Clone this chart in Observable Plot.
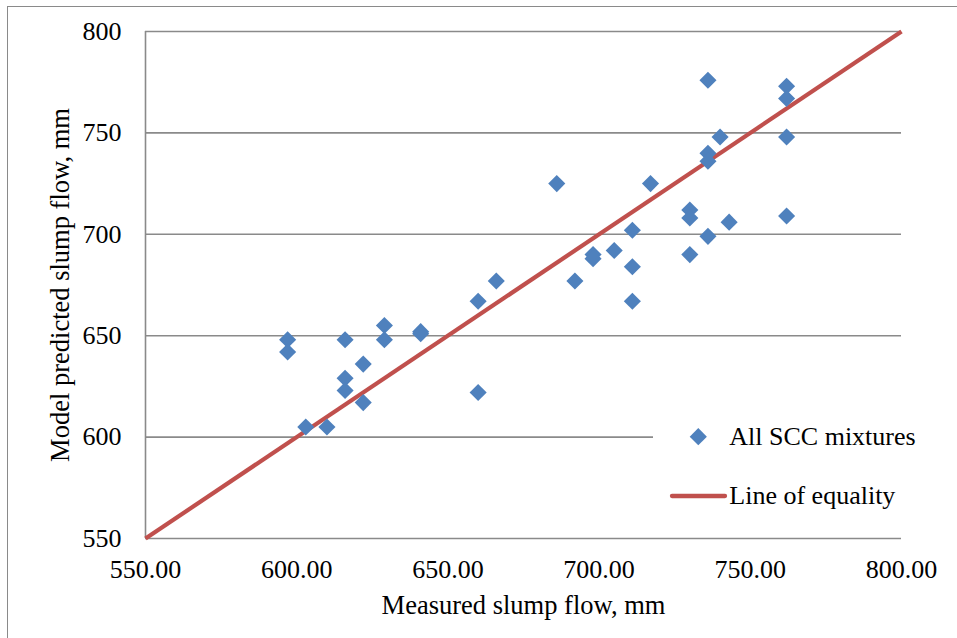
<!DOCTYPE html>
<html>
<head>
<meta charset="utf-8">
<script src="https://cdn.jsdelivr.net/npm/d3@7"></script>
<script src="https://cdn.jsdelivr.net/npm/@observablehq/plot@0.6"></script>
<style>
html, body { margin: 0; padding: 0; background: #fff; overflow: hidden; }
#wrap { position: relative; width: 957px; height: 638px; font-family: "Liberation Serif", "Times New Roman", serif; }
#frame { position: absolute; left: 7px; top: 6px; width: 1000px; height: 1000px; border: 1px solid #8a8a8a; }
#chart { position: absolute; left: 0; top: 0; }
#legend { position: absolute; left: 653px; top: 405px; }
</style>
</head>
<body>
<div id="wrap">
  <div id="frame"></div>
  <div id="chart"></div>
  <div id="legend"></div>
</div>
<script>
// Measured vs. model predicted slump flow (mm)
const measured = [736, 762, 762, 740, 762, 736, 736, 686, 717, 730,
                  730, 743, 762, 711, 736, 698, 698, 705, 711, 730,
                  692, 711, 666, 660, 597, 597, 616, 629, 629, 641,
                  641, 622, 616, 616, 622, 603, 610, 660];
const predicted = [776, 773, 767, 748, 748, 740, 736, 725, 725, 712,
                   708, 706, 709, 702, 699, 690, 688, 692, 684, 690,
                   677, 667, 677, 667, 648, 642, 648, 655, 648, 652,
                   651, 636, 629, 623, 617, 605, 605, 622];
const equalityX = [550, 800];
const equalityY = [550, 800];
const xTicks = [550, 600, 650, 700, 750, 800];
const yTicks = [550, 600, 650, 700, 750, 800];
const seriesNames = ["All SCC mixtures", "Line of equality"];
const xTitle = "Measured slump flow, mm";
const yTitle = "Model predicted slump flow, mm";

const points = measured.map((m, i) => ({x: m, y: predicted[i]}));
const eqLine = equalityX.map((v, i) => ({x: v, y: equalityY[i]}));

const blue = "#4F81BD";
const red = "#C0504D";
const grid = "#8a8a8a";

const chart = Plot.plot({
  width: 957,
  height: 638,
  marginLeft: 145,
  marginRight: 56,
  marginTop: 31,
  marginBottom: 100,
  style: {
    fontFamily: '"Liberation Serif", "Times New Roman", serif',
    fontSize: "26px",
    background: "transparent",
    color: "#000",
    overflow: "visible"
  },
  x: {domain: [550, 800]},
  y: {domain: [550, 800]},
  marks: [
    Plot.ruleY(yTicks, {stroke: grid, strokeWidth: 1.6, strokeOpacity: 1}),
    Plot.ruleX([xTicks[0]], {stroke: grid, strokeWidth: 1.6, strokeOpacity: 1}),
    Plot.axisY({ticks: yTicks, tickSize: 0, tickPadding: 24, tickFormat: d3.format("d"), label: null, fontSize: 26}),
    Plot.axisX({ticks: xTicks, tickSize: 0, tickPadding: 21, tickFormat: d3.format(".2f"), label: null, fontSize: 26}),
    Plot.line(eqLine, {x: "x", y: "y", stroke: red, strokeWidth: 4.2, strokeLinecap: "butt"}),
    Plot.dot(points, {x: "x", y: "y", symbol: "diamond2", r: 7.7, fill: blue, stroke: null}),
    Plot.text([xTitle], {frameAnchor: "bottom", dy: 75, fontSize: 26.5, fill: "#000", textAnchor: "middle"}),
    Plot.text([yTitle], {frameAnchor: "left", rotate: -90, dx: -85, fontSize: 26.5, fill: "#000", textAnchor: "middle"})
  ]
});
document.getElementById("chart").appendChild(chart);

// Legend (white box covering gridlines, like the original)
const lg = d3.select("#legend").append("svg")
  .attr("width", 304).attr("height", 120)
  .style("font-family", '"Liberation Serif", "Times New Roman", serif')
  .style("font-size", "26px")
  .style("overflow", "visible");
lg.append("rect").attr("width", 250).attr("height", 120).attr("fill", "#fff");
lg.append("path").attr("d", "M0,-8.6L8.6,0L0,8.6L-8.6,0Z")
  .attr("transform", "translate(45.3,31.7)").attr("fill", blue);
lg.append("text").attr("x", 76.3).attr("y", 40).attr("fill", "#000").text(seriesNames[0]);
lg.append("line").attr("x1", 19).attr("x2", 72).attr("y1", 91).attr("y2", 91)
  .attr("stroke", red).attr("stroke-width", 4.3).attr("stroke-linecap", "round");
lg.append("text").attr("x", 76.3).attr("y", 99).attr("fill", "#000").text(seriesNames[1]);
</script>
</body>
</html>
